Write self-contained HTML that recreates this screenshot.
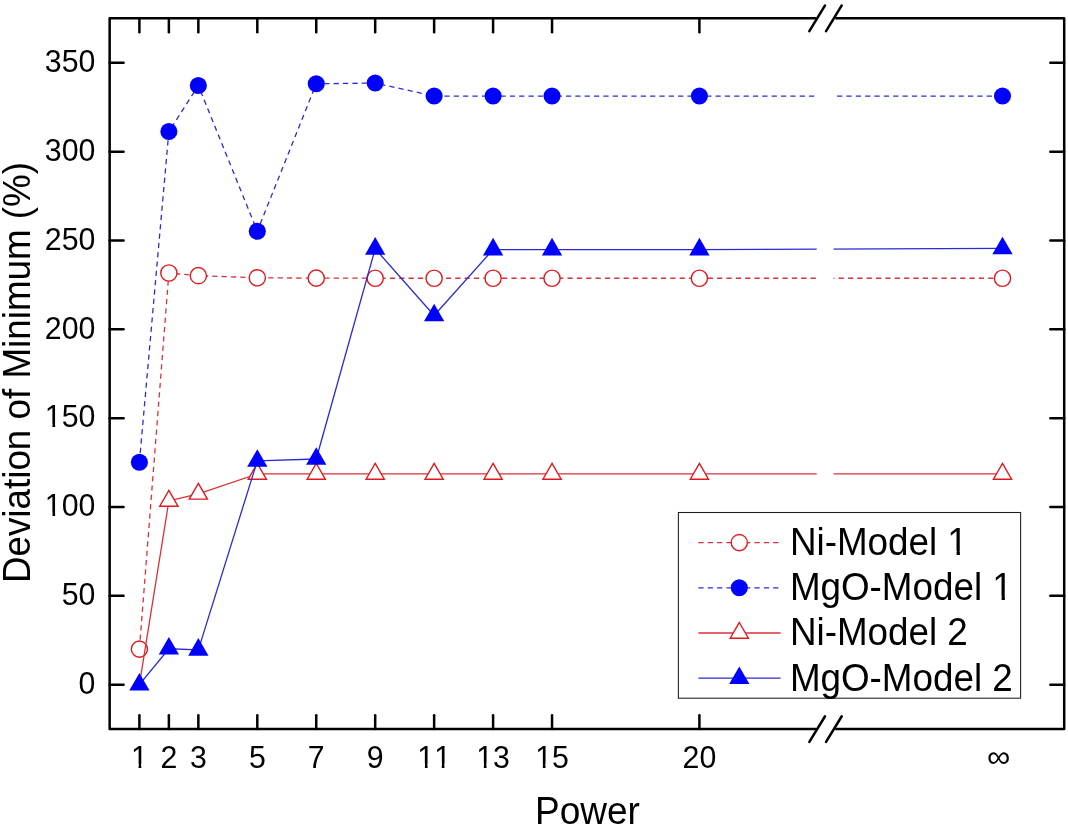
<!DOCTYPE html>
<html><head><meta charset="utf-8"><title>Deviation of Minimum vs Power</title>
<style>html,body{margin:0;padding:0;background:#fff;}body{width:1068px;height:828px;overflow:hidden;}svg{display:block;}text{font-kerning:none;}</style>
</head><body>
<svg width="1068" height="828" viewBox="0 0 1068 828">
<defs>
<clipPath id="dclip"><path d="M109.65,18.3 H816.7 V729.1 H109.65 Z M833.6,18.3 H1064.2 V729.1 H833.6 Z"/></clipPath>
</defs>
<rect width="1068" height="828" fill="#fff"/>
<path clip-path="url(#dclip)" d="M139.40,649.12 L168.87,272.99 L198.35,275.65 L257.30,277.78 L316.24,278.14 L375.19,278.23 L434.14,278.23 L493.09,278.23 L552.04,278.23 L699.41,278.23 L1002.50,278.23" fill="none" stroke="#da3038" stroke-width="1.3" stroke-linejoin="round" stroke-dasharray="5.2 4.15"/>
<circle cx="139.40" cy="649.12" r="8.1" fill="#fff" stroke="#e2181d" stroke-width="1.4"/>
<circle cx="168.87" cy="272.99" r="8.1" fill="#fff" stroke="#e2181d" stroke-width="1.4"/>
<circle cx="198.35" cy="275.65" r="8.1" fill="#fff" stroke="#e2181d" stroke-width="1.4"/>
<circle cx="257.30" cy="277.78" r="8.1" fill="#fff" stroke="#e2181d" stroke-width="1.4"/>
<circle cx="316.24" cy="278.14" r="8.1" fill="#fff" stroke="#e2181d" stroke-width="1.4"/>
<circle cx="375.19" cy="278.23" r="8.1" fill="#fff" stroke="#e2181d" stroke-width="1.4"/>
<circle cx="434.14" cy="278.23" r="8.1" fill="#fff" stroke="#e2181d" stroke-width="1.4"/>
<circle cx="493.09" cy="278.23" r="8.1" fill="#fff" stroke="#e2181d" stroke-width="1.4"/>
<circle cx="552.04" cy="278.23" r="8.1" fill="#fff" stroke="#e2181d" stroke-width="1.4"/>
<circle cx="699.41" cy="278.23" r="8.1" fill="#fff" stroke="#e2181d" stroke-width="1.4"/>
<circle cx="1002.50" cy="278.23" r="8.1" fill="#fff" stroke="#e2181d" stroke-width="1.4"/>
<path clip-path="url(#dclip)" d="M139.40,462.21 L168.87,131.56 L198.35,85.54 L257.30,231.23 L316.24,83.77 L375.19,83.06 L434.14,96.03 L493.09,96.03 L552.04,96.03 L699.41,96.03 L1002.50,96.03" fill="none" stroke="#2a2ad6" stroke-width="1.3" stroke-linejoin="round" stroke-dasharray="5.2 4.15"/>
<circle cx="139.40" cy="462.21" r="8.55" fill="#0000ff"/>
<circle cx="168.87" cy="131.56" r="8.55" fill="#0000ff"/>
<circle cx="198.35" cy="85.54" r="8.55" fill="#0000ff"/>
<circle cx="257.30" cy="231.23" r="8.55" fill="#0000ff"/>
<circle cx="316.24" cy="83.77" r="8.55" fill="#0000ff"/>
<circle cx="375.19" cy="83.06" r="8.55" fill="#0000ff"/>
<circle cx="434.14" cy="96.03" r="8.55" fill="#0000ff"/>
<circle cx="493.09" cy="96.03" r="8.55" fill="#0000ff"/>
<circle cx="552.04" cy="96.03" r="8.55" fill="#0000ff"/>
<circle cx="699.41" cy="96.03" r="8.55" fill="#0000ff"/>
<circle cx="1002.50" cy="96.03" r="8.55" fill="#0000ff"/>
<path clip-path="url(#dclip)" d="M139.40,684.65 L168.87,500.94 L198.35,493.83 L257.30,473.93 L316.24,473.93 L375.19,473.93 L434.14,473.93 L493.09,473.93 L552.04,473.93 L699.41,473.93 L1002.50,473.93" fill="none" stroke="#da3038" stroke-width="1.3" stroke-linejoin="round"/>
<path d="M168.87,490.43 L177.97,506.19 L159.77,506.19 Z" fill="#fff" stroke="#e2181d" stroke-width="1.4" stroke-linejoin="miter"/>
<path d="M198.35,483.32 L207.45,499.09 L189.25,499.09 Z" fill="#fff" stroke="#e2181d" stroke-width="1.4" stroke-linejoin="miter"/>
<path d="M257.30,463.42 L266.40,479.19 L248.20,479.19 Z" fill="#fff" stroke="#e2181d" stroke-width="1.4" stroke-linejoin="miter"/>
<path d="M316.24,463.42 L325.34,479.19 L307.14,479.19 Z" fill="#fff" stroke="#e2181d" stroke-width="1.4" stroke-linejoin="miter"/>
<path d="M375.19,463.42 L384.29,479.19 L366.09,479.19 Z" fill="#fff" stroke="#e2181d" stroke-width="1.4" stroke-linejoin="miter"/>
<path d="M434.14,463.42 L443.24,479.19 L425.04,479.19 Z" fill="#fff" stroke="#e2181d" stroke-width="1.4" stroke-linejoin="miter"/>
<path d="M493.09,463.42 L502.19,479.19 L483.99,479.19 Z" fill="#fff" stroke="#e2181d" stroke-width="1.4" stroke-linejoin="miter"/>
<path d="M552.04,463.42 L561.14,479.19 L542.94,479.19 Z" fill="#fff" stroke="#e2181d" stroke-width="1.4" stroke-linejoin="miter"/>
<path d="M699.41,463.42 L708.51,479.19 L690.31,479.19 Z" fill="#fff" stroke="#e2181d" stroke-width="1.4" stroke-linejoin="miter"/>
<path d="M1002.50,463.42 L1011.60,479.19 L993.40,479.19 Z" fill="#fff" stroke="#e2181d" stroke-width="1.4" stroke-linejoin="miter"/>
<path clip-path="url(#dclip)" d="M139.40,684.65 L168.87,648.76 L198.35,649.83 L257.30,460.96 L316.24,459.01 L375.19,248.82 L434.14,315.45 L493.09,249.53 L552.04,249.53 L699.41,249.53 L1002.50,248.47" fill="none" stroke="#2a2ad6" stroke-width="1.3" stroke-linejoin="round"/>
<path d="M139.40,672.93 L149.55,690.51 L129.25,690.51 Z" fill="#0000ff"/>
<path d="M168.87,637.04 L179.02,654.62 L158.72,654.62 Z" fill="#0000ff"/>
<path d="M198.35,638.11 L208.50,655.69 L188.20,655.69 Z" fill="#0000ff"/>
<path d="M257.30,449.24 L267.45,466.82 L247.15,466.82 Z" fill="#0000ff"/>
<path d="M316.24,447.29 L326.39,464.87 L306.09,464.87 Z" fill="#0000ff"/>
<path d="M375.19,237.10 L385.34,254.68 L365.04,254.68 Z" fill="#0000ff"/>
<path d="M434.14,303.73 L444.29,321.31 L423.99,321.31 Z" fill="#0000ff"/>
<path d="M493.09,237.81 L503.24,255.39 L482.94,255.39 Z" fill="#0000ff"/>
<path d="M552.04,237.81 L562.19,255.39 L541.89,255.39 Z" fill="#0000ff"/>
<path d="M699.41,237.81 L709.56,255.39 L689.26,255.39 Z" fill="#0000ff"/>
<path d="M1002.50,236.75 L1012.65,254.33 L992.35,254.33 Z" fill="#0000ff"/>
<g stroke="#000" stroke-width="2.5" fill="none" stroke-linecap="butt">
<path d="M816.2,18.3 H109.65 V729.1 H816.2" stroke-linejoin="round"/>
<path d="M835.2,18.3 H1064.2 V729.1 H835.2" stroke-linejoin="round"/>
<path d="M809.35,31.15 L825.05,5.45" stroke-linecap="round"/>
<path d="M826.05,31.15 L841.75,5.45" stroke-linecap="round"/>
<path d="M809.35,741.95 L825.05,716.25" stroke-linecap="round"/>
<path d="M826.05,741.95 L841.75,716.25" stroke-linecap="round"/>
</g>
<g stroke="#000" stroke-width="2.5" stroke-linecap="round">
<path d="M109.65,684.65 H123.55000000000001"/>
<path d="M1064.2,684.65 H1050.3"/>
<path d="M109.65,595.81 H123.55000000000001"/>
<path d="M1064.2,595.81 H1050.3"/>
<path d="M109.65,506.98 H123.55000000000001"/>
<path d="M1064.2,506.98 H1050.3"/>
<path d="M109.65,418.14 H123.55000000000001"/>
<path d="M1064.2,418.14 H1050.3"/>
<path d="M109.65,329.31 H123.55000000000001"/>
<path d="M1064.2,329.31 H1050.3"/>
<path d="M109.65,240.47 H123.55000000000001"/>
<path d="M1064.2,240.47 H1050.3"/>
<path d="M109.65,151.64 H123.55000000000001"/>
<path d="M1064.2,151.64 H1050.3"/>
<path d="M109.65,62.80 H123.55000000000001"/>
<path d="M1064.2,62.80 H1050.3"/>
<path d="M139.40,729.1 V715.2"/>
<path d="M139.40,18.3 V32.2"/>
<path d="M168.87,729.1 V715.2"/>
<path d="M168.87,18.3 V32.2"/>
<path d="M198.35,729.1 V715.2"/>
<path d="M198.35,18.3 V32.2"/>
<path d="M257.30,729.1 V715.2"/>
<path d="M257.30,18.3 V32.2"/>
<path d="M316.24,729.1 V715.2"/>
<path d="M316.24,18.3 V32.2"/>
<path d="M375.19,729.1 V715.2"/>
<path d="M375.19,18.3 V32.2"/>
<path d="M434.14,729.1 V715.2"/>
<path d="M434.14,18.3 V32.2"/>
<path d="M493.09,729.1 V715.2"/>
<path d="M493.09,18.3 V32.2"/>
<path d="M552.04,729.1 V715.2"/>
<path d="M552.04,18.3 V32.2"/>
<path d="M699.41,729.1 V715.2"/>
<path d="M699.41,18.3 V32.2"/>
</g>
<text transform="translate(95.40,693.85) scale(1.0,1.04)" font-family="Liberation Sans, Arial, sans-serif" font-size="30.3" text-anchor="end">0</text>
<text transform="translate(95.40,605.01) scale(1.0,1.04)" font-family="Liberation Sans, Arial, sans-serif" font-size="30.3" text-anchor="end">50</text>
<g transform="translate(95.40,516.18) scale(1.0,1.04)"><text x="0" y="0" font-family="Liberation Sans, Arial, sans-serif" font-size="30.3" text-anchor="end">100</text><rect x="-49.15" y="-3.56" width="6.21" height="4.86" fill="#fff"/><rect x="-40.26" y="-3.56" width="5.97" height="4.86" fill="#fff"/></g>
<g transform="translate(95.40,427.34) scale(1.0,1.04)"><text x="0" y="0" font-family="Liberation Sans, Arial, sans-serif" font-size="30.3" text-anchor="end">150</text><rect x="-49.15" y="-3.56" width="6.21" height="4.86" fill="#fff"/><rect x="-40.26" y="-3.56" width="5.97" height="4.86" fill="#fff"/></g>
<text transform="translate(95.40,338.51) scale(1.0,1.04)" font-family="Liberation Sans, Arial, sans-serif" font-size="30.3" text-anchor="end">200</text>
<text transform="translate(95.40,249.67) scale(1.0,1.04)" font-family="Liberation Sans, Arial, sans-serif" font-size="30.3" text-anchor="end">250</text>
<text transform="translate(95.40,160.84) scale(1.0,1.04)" font-family="Liberation Sans, Arial, sans-serif" font-size="30.3" text-anchor="end">300</text>
<text transform="translate(95.40,72.00) scale(1.0,1.04)" font-family="Liberation Sans, Arial, sans-serif" font-size="30.3" text-anchor="end">350</text>
<g transform="translate(139.40,767.50) scale(1.0,1.04)"><text x="0" y="0" font-family="Liberation Sans, Arial, sans-serif" font-size="30.3" text-anchor="middle">1</text><rect x="-7.02" y="-3.56" width="6.21" height="4.86" fill="#fff"/><rect x="1.87" y="-3.56" width="5.97" height="4.86" fill="#fff"/></g>
<text transform="translate(168.87,767.50) scale(1.0,1.04)" font-family="Liberation Sans, Arial, sans-serif" font-size="30.3" text-anchor="middle">2</text>
<text transform="translate(198.35,767.50) scale(1.0,1.04)" font-family="Liberation Sans, Arial, sans-serif" font-size="30.3" text-anchor="middle">3</text>
<text transform="translate(257.30,767.50) scale(1.0,1.04)" font-family="Liberation Sans, Arial, sans-serif" font-size="30.3" text-anchor="middle">5</text>
<text transform="translate(316.24,767.50) scale(1.0,1.04)" font-family="Liberation Sans, Arial, sans-serif" font-size="30.3" text-anchor="middle">7</text>
<text transform="translate(375.19,767.50) scale(1.0,1.04)" font-family="Liberation Sans, Arial, sans-serif" font-size="30.3" text-anchor="middle">9</text>
<g transform="translate(434.14,767.50) scale(1.0,1.04)"><text x="0" y="0" font-family="Liberation Sans, Arial, sans-serif" font-size="30.3" text-anchor="middle">11</text><rect x="-15.44" y="-3.56" width="6.21" height="4.86" fill="#fff"/><rect x="-6.55" y="-3.56" width="5.97" height="4.86" fill="#fff"/><rect x="1.41" y="-3.56" width="6.21" height="4.86" fill="#fff"/><rect x="10.30" y="-3.56" width="5.97" height="4.86" fill="#fff"/></g>
<g transform="translate(493.09,767.50) scale(1.0,1.04)"><text x="0" y="0" font-family="Liberation Sans, Arial, sans-serif" font-size="30.3" text-anchor="middle">13</text><rect x="-15.44" y="-3.56" width="6.21" height="4.86" fill="#fff"/><rect x="-6.55" y="-3.56" width="5.97" height="4.86" fill="#fff"/></g>
<g transform="translate(552.04,767.50) scale(1.0,1.04)"><text x="0" y="0" font-family="Liberation Sans, Arial, sans-serif" font-size="30.3" text-anchor="middle">15</text><rect x="-15.44" y="-3.56" width="6.21" height="4.86" fill="#fff"/><rect x="-6.55" y="-3.56" width="5.97" height="4.86" fill="#fff"/></g>
<text transform="translate(699.41,767.50) scale(1.0,1.04)" font-family="Liberation Sans, Arial, sans-serif" font-size="30.3" text-anchor="middle">20</text>
<text transform="translate(998.60,766.80) scale(1.08,1.0)" font-family="Liberation Sans, Arial, sans-serif" font-size="30.3" text-anchor="middle">&#8734;</text>
<text transform="translate(587.40,824.00) scale(1.0,1.04)" font-family="Liberation Sans, Arial, sans-serif" font-size="37" text-anchor="middle">Power</text>
<text transform="translate(29.70,372.50) rotate(-90) scale(1.0,1.04)" font-family="Liberation Sans, Arial, sans-serif" font-size="36.8" text-anchor="middle">Deviation of Minimum (%)</text>
<rect x="678.4" y="512.5" width="342.2" height="185.7" fill="#fff" stroke="#1c1c1c" stroke-width="1.05"/>
<line x1="698.4" y1="542.6" x2="780.6" y2="542.6" stroke="#da3038" stroke-width="1.3" stroke-dasharray="5.2 4.15"/>
<circle cx="739.30" cy="542.60" r="8.1" fill="#fff" stroke="#e2181d" stroke-width="1.4"/>
<g transform="translate(789.90,555.20) scale(1.0,1.04)"><text x="0" y="0" font-family="Liberation Sans, Arial, sans-serif" font-size="36.8">Ni-Model 1</text><rect x="159.36" y="-4.05" width="7.35" height="5.35" fill="#fff"/><rect x="169.97" y="-4.05" width="7.06" height="5.35" fill="#fff"/></g>
<line x1="698.4" y1="587.8" x2="780.6" y2="587.8" stroke="#2a2ad6" stroke-width="1.3" stroke-dasharray="5.2 4.15"/>
<circle cx="739.30" cy="587.80" r="8.55" fill="#0000ff"/>
<g transform="translate(789.90,600.30) scale(1.0,1.04)"><text x="0" y="0" font-family="Liberation Sans, Arial, sans-serif" font-size="36.8">MgO-Model 1</text><rect x="204.36" y="-4.05" width="7.35" height="5.35" fill="#fff"/><rect x="214.96" y="-4.05" width="7.06" height="5.35" fill="#fff"/></g>
<line x1="698.4" y1="633.0" x2="780.6" y2="633.0" stroke="#da3038" stroke-width="1.3"/>
<path d="M739.30,622.49 L748.40,638.25 L730.20,638.25 Z" fill="#fff" stroke="#e2181d" stroke-width="1.4" stroke-linejoin="miter"/>
<text transform="translate(789.90,645.40) scale(1.0,1.04)" font-family="Liberation Sans, Arial, sans-serif" font-size="36.8">Ni-Model 2</text>
<line x1="698.4" y1="678.2" x2="780.6" y2="678.2" stroke="#2a2ad6" stroke-width="1.3"/>
<path d="M739.30,666.48 L749.45,684.06 L729.15,684.06 Z" fill="#0000ff"/>
<text transform="translate(789.90,690.70) scale(1.0,1.04)" font-family="Liberation Sans, Arial, sans-serif" font-size="36.8">MgO-Model 2</text>
</svg>
</body></html>
